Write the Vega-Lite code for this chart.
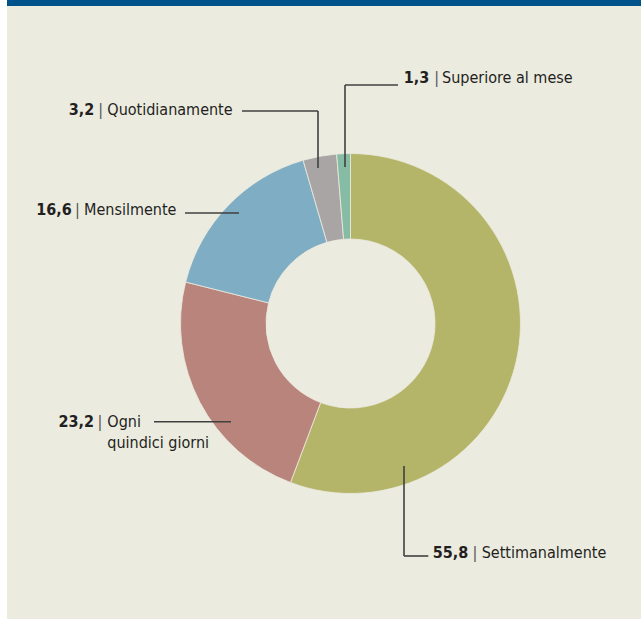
{
  "$schema": "https://vega.github.io/schema/vega-lite/v6.json",
  "width": 634,
  "height": 619,
  "autosize": {"type": "none"},
  "padding": {"left": 7, "top": 0, "right": 0, "bottom": 0},
  "background": "#ffffff",
  "config": {
    "view": {"fill": "#ECEBE0", "stroke": null},
    "locale": {"number": {"decimal": ",", "thousands": ".", "grouping": [3], "currency": ["", " €"]}},
    "text": {"font": "DejaVu Sans Condensed", "fontSize": 16, "color": "#231f20", "baseline": "alphabetic"},
    "rule": {"color": "#404040", "strokeWidth": 1.6}
  },
  "data": {
    "values": [
      {"frequenza": "Settimanalmente", "valore": 55.8},
      {"frequenza": "Ogni\nquindici giorni", "valore": 23.2},
      {"frequenza": "Mensilmente", "valore": 16.6},
      {"frequenza": "Quotidianamente", "valore": 3.2},
      {"frequenza": "Superiore al mese", "valore": 1.3}
    ]
  },
  "layer": [
    {
      "mark": {"type": "arc", "outerRadius": 170, "innerRadius": 84.5, "stroke": "#ECEBE0", "strokeWidth": 0.8},
      "encoding": {
        "x": {"datum": 0, "type": "quantitative", "scale": {"domain": [-343.5, 290.5], "nice": false, "zero": false}, "axis": null},
        "y": {"datum": 0, "type": "quantitative", "scale": {"domain": [-323.5, 295.5], "nice": false, "zero": false, "reverse": true}, "axis": null},
        "theta": {"field": "valore", "type": "quantitative", "stack": true},
        "order": {"field": "valore", "sort": "descending"},
        "color": {"field": "frequenza", "type": "nominal",
                  "scale": {"domain": ["Settimanalmente", "Ogni\nquindici giorni", "Mensilmente", "Quotidianamente", "Superiore al mese"],
                            "range": ["#B5B56A", "#B9847B", "#7EADC4", "#A9A5A4", "#86BCA4"]},
                  "legend": null}
      }
    },
    {
      "data": {"values": [{}]},
      "mark": {"type": "rule", "color": "#00528A", "strokeWidth": 6},
      "encoding": {
        "x": {"datum": -343.5, "type": "quantitative", "axis": null},
        "x2": {"datum": 290.5},
        "y": {"datum": -320.5, "type": "quantitative", "axis": null}
      }
    },
    {
      "transform": [{"filter": "datum.valore === 1.3"}],
      "layer": [
        {"mark": "rule", "encoding": {"x": {"datum": -5.5, "type": "quantitative", "axis": null}, "y": {"datum": -238.5, "type": "quantitative", "axis": null}, "y2": {"datum": -156.5}}},
        {"mark": "rule", "encoding": {"x": {"datum": -5.5, "type": "quantitative", "axis": null}, "x2": {"datum": 47.5}, "y": {"datum": -238.5, "type": "quantitative", "axis": null}}},
        {"mark": {"type": "text", "align": "right", "fontWeight": "bold"}, "encoding": {"x": {"datum": 78.8, "type": "quantitative", "axis": null}, "y": {"datum": -240.2, "type": "quantitative", "axis": null}, "text": {"field": "valore", "type": "quantitative", "format": ".1f"}}},
        {"mark": {"type": "text", "align": "center", "color": "#555555"}, "encoding": {"x": {"datum": 86.2, "type": "quantitative", "axis": null}, "y": {"datum": -240.2, "type": "quantitative", "axis": null}, "text": {"value": "|"}}},
        {"mark": {"type": "text", "align": "left"}, "encoding": {"x": {"datum": 91.5, "type": "quantitative", "axis": null}, "y": {"datum": -240.2, "type": "quantitative", "axis": null}, "text": {"field": "frequenza", "type": "nominal"}}}
      ]
    },
    {
      "transform": [{"filter": "datum.valore === 3.2"}],
      "layer": [
        {"mark": "rule", "encoding": {"x": {"datum": -108.5, "type": "quantitative", "axis": null}, "x2": {"datum": -32.5}, "y": {"datum": -212.5, "type": "quantitative", "axis": null}}},
        {"mark": "rule", "encoding": {"x": {"datum": -32.5, "type": "quantitative", "axis": null}, "y": {"datum": -212.5, "type": "quantitative", "axis": null}, "y2": {"datum": -155.5}}},
        {"mark": {"type": "text", "align": "right", "fontWeight": "bold"}, "encoding": {"x": {"datum": -256.2, "type": "quantitative", "axis": null}, "y": {"datum": -208.5, "type": "quantitative", "axis": null}, "text": {"field": "valore", "type": "quantitative", "format": ".1f"}}},
        {"mark": {"type": "text", "align": "center", "color": "#555555"}, "encoding": {"x": {"datum": -249.8, "type": "quantitative", "axis": null}, "y": {"datum": -208.5, "type": "quantitative", "axis": null}, "text": {"value": "|"}}},
        {"mark": {"type": "text", "align": "left"}, "encoding": {"x": {"datum": -243.2, "type": "quantitative", "axis": null}, "y": {"datum": -208.5, "type": "quantitative", "axis": null}, "text": {"field": "frequenza", "type": "nominal"}}}
      ]
    },
    {
      "transform": [{"filter": "datum.valore === 16.6"}],
      "layer": [
        {"mark": "rule", "encoding": {"x": {"datum": -165.5, "type": "quantitative", "axis": null}, "x2": {"datum": -111.5}, "y": {"datum": -110.5, "type": "quantitative", "axis": null}}},
        {"mark": {"type": "text", "align": "right", "fontWeight": "bold"}, "encoding": {"x": {"datum": -278.8, "type": "quantitative", "axis": null}, "y": {"datum": -108.5, "type": "quantitative", "axis": null}, "text": {"field": "valore", "type": "quantitative", "format": ".1f"}}},
        {"mark": {"type": "text", "align": "center", "color": "#555555"}, "encoding": {"x": {"datum": -273.2, "type": "quantitative", "axis": null}, "y": {"datum": -108.5, "type": "quantitative", "axis": null}, "text": {"value": "|"}}},
        {"mark": {"type": "text", "align": "left"}, "encoding": {"x": {"datum": -266.5, "type": "quantitative", "axis": null}, "y": {"datum": -108.5, "type": "quantitative", "axis": null}, "text": {"field": "frequenza", "type": "nominal"}}}
      ]
    },
    {
      "transform": [{"filter": "datum.valore === 23.2"}],
      "layer": [
        {"mark": "rule", "encoding": {"x": {"datum": -196.5, "type": "quantitative", "axis": null}, "x2": {"datum": -119.5}, "y": {"datum": 98.2, "type": "quantitative", "axis": null}}},
        {"mark": {"type": "text", "align": "right", "fontWeight": "bold"}, "encoding": {"x": {"datum": -256.5, "type": "quantitative", "axis": null}, "y": {"datum": 103.2, "type": "quantitative", "axis": null}, "text": {"field": "valore", "type": "quantitative", "format": ".1f"}}},
        {"mark": {"type": "text", "align": "center", "color": "#555555"}, "encoding": {"x": {"datum": -250.5, "type": "quantitative", "axis": null}, "y": {"datum": 103.2, "type": "quantitative", "axis": null}, "text": {"value": "|"}}},
        {"mark": {"type": "text", "align": "left", "lineBreak": "\n", "lineHeight": 21.3}, "encoding": {"x": {"datum": -243.2, "type": "quantitative", "axis": null}, "y": {"datum": 103.2, "type": "quantitative", "axis": null}, "text": {"field": "frequenza", "type": "nominal"}}}
      ]
    },
    {
      "transform": [{"filter": "datum.valore === 55.8"}],
      "layer": [
        {"mark": "rule", "encoding": {"x": {"datum": 53.5, "type": "quantitative", "axis": null}, "y": {"datum": 142.5, "type": "quantitative", "axis": null}, "y2": {"datum": 232.5}}},
        {"mark": "rule", "encoding": {"x": {"datum": 53.5, "type": "quantitative", "axis": null}, "x2": {"datum": 77.8}, "y": {"datum": 232.5, "type": "quantitative", "axis": null}}},
        {"mark": {"type": "text", "align": "right", "fontWeight": "bold"}, "encoding": {"x": {"datum": 117.8, "type": "quantitative", "axis": null}, "y": {"datum": 234.8, "type": "quantitative", "axis": null}, "text": {"field": "valore", "type": "quantitative", "format": ".1f"}}},
        {"mark": {"type": "text", "align": "center", "color": "#555555"}, "encoding": {"x": {"datum": 124.5, "type": "quantitative", "axis": null}, "y": {"datum": 234.8, "type": "quantitative", "axis": null}, "text": {"value": "|"}}},
        {"mark": {"type": "text", "align": "left"}, "encoding": {"x": {"datum": 131.2, "type": "quantitative", "axis": null}, "y": {"datum": 234.8, "type": "quantitative", "axis": null}, "text": {"field": "frequenza", "type": "nominal"}}}
      ]
    }
  ]
}
